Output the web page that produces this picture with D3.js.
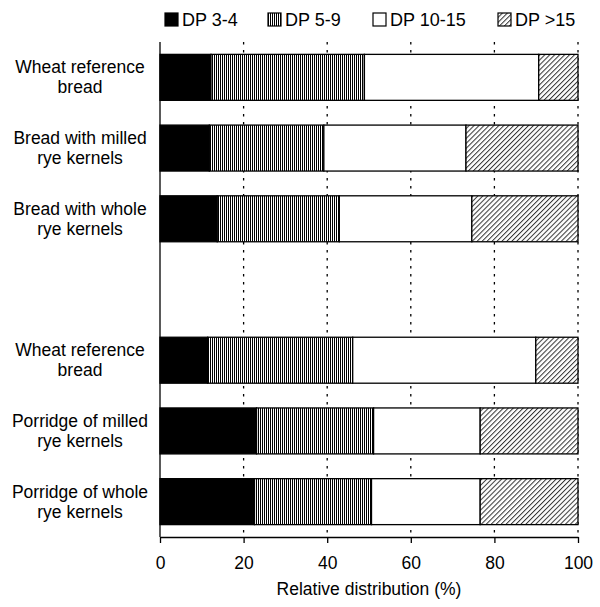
<!DOCTYPE html>
<html>
<head>
<meta charset="utf-8">
<script src="https://cdn.jsdelivr.net/npm/d3@7/dist/d3.min.js"></script>
<style>
  html, body { margin: 0; padding: 0; background: #fff; }
  text { font-family: "Liberation Sans", Arial, sans-serif; fill: #000; }
</style>
</head>
<body>
<svg id="chart" width="600" height="607"></svg>
<script>
// ---- data ----
const rowIds = ["r1", "r2", "r3", "gap", "r4", "r5", "r6"];
const rowLabels = [
  ["Wheat reference", "bread"],
  ["Bread with milled", "rye kernels"],
  ["Bread with whole", "rye kernels"],
  [],
  ["Wheat reference", "bread"],
  ["Porridge of milled", "rye kernels"],
  ["Porridge of whole", "rye kernels"]
];
const seriesNames = ["DP 3-4", "DP 5-9", "DP 10-15", "DP >15"];
const dp34   = [12.2, 11.8, 13.7, null, 11.4, 23.1, 22.6];
const dp59   = [36.7, 27.4, 29.2, null, 34.7, 28.0, 28.0];
const dp1015 = [41.7, 34.0, 31.7, null, 43.8, 25.5, 26.0];
const dp15   = [ 9.4, 26.8, 25.4, null, 10.1, 23.4, 23.4];
const xTicks = [0, 20, 40, 60, 80, 100];
const xTitle = "Relative distribution (%)";

// ---- setup ----
const svg = d3.select("#chart");
const pLeft = 160, pRight = 578, pTop = 42, pBottom = 537;
const fs = 17.5;

const x = d3.scaleLinear().domain([0, 100]).range([pLeft, pRight]);
const y = d3.scaleBand().domain(rowIds).range([pTop, pBottom])
  .paddingInner(0.35).paddingOuter(0.175);

// patterns
const defs = svg.append("defs");
const pv = defs.append("pattern").attr("id", "pVert")
  .attr("patternUnits", "userSpaceOnUse").attr("width", 2).attr("height", 4);
pv.append("rect").attr("width", 2).attr("height", 4).attr("fill", "#fff");
pv.append("rect").attr("width", 1).attr("height", 4).attr("fill", "#000");

const pd = defs.append("pattern").attr("id", "pDiag")
  .attr("patternUnits", "userSpaceOnUse").attr("width", 3.5).attr("height", 3.5)
  .attr("patternTransform", "rotate(45)");
pd.append("rect").attr("width", 3.5).attr("height", 3.5).attr("fill", "#fff");
pd.append("rect").attr("width", 1).attr("height", 3.5).attr("fill", "#333");

const fills = ["#000", "url(#pVert)", "#fff", "url(#pDiag)"];

// gridlines
svg.append("g").selectAll("line").data(xTicks.filter(t => t > 0)).join("line")
  .attr("x1", d => x(d)).attr("x2", d => x(d))
  .attr("y1", pTop).attr("y2", pBottom)
  .attr("stroke", "#000").attr("stroke-width", 1.3)
  .attr("stroke-dasharray", "2.5,5.5");

// stacked bars
const rows = rowIds.map((id, i) => ({ id, vals: [dp34[i], dp59[i], dp1015[i], dp15[i]] }))
  .filter(r => r.vals[0] !== null);
const segs = [];
rows.forEach(r => {
  let acc = 0;
  r.vals.forEach((v, k) => { segs.push({ id: r.id, k, x0: acc, x1: acc + v }); acc += v; });
});
svg.append("g").selectAll("rect").data(segs).join("rect")
  .attr("x", d => x(d.x0)).attr("width", d => x(d.x1) - x(d.x0))
  .attr("y", d => y(d.id)).attr("height", y.bandwidth())
  .attr("fill", d => fills[d.k])
  .attr("stroke", "#000").attr("stroke-width", 1.3);

// x axis
const xAxis = svg.append("g").attr("transform", `translate(0,${pBottom})`)
  .call(d3.axisBottom(x).tickValues(xTicks).tickSize(6).tickSizeOuter(0).tickPadding(14));
xAxis.select(".domain").attr("stroke-width", 1.3);
xAxis.selectAll(".tick line").attr("stroke-width", 1.3);
xAxis.selectAll("text").attr("font-size", fs)
  .attr("font-family", "Liberation Sans, Arial, sans-serif");

// y axis line
svg.append("line").attr("x1", pLeft).attr("x2", pLeft).attr("y1", pTop).attr("y2", pBottom)
  .attr("stroke", "#000").attr("stroke-width", 1.3);

// y labels
rowIds.forEach((id, i) => {
  const lines = rowLabels[i];
  if (!lines.length) return;
  const cy = y(id) + y.bandwidth() / 2;
  const t = svg.append("text").attr("text-anchor", "middle").attr("font-size", fs);
  lines.forEach((ln, j) => {
    t.append("tspan").attr("x", 80)
      .attr("y", cy - 10 + j * 20 + 0.35 * fs)
      .text(ln);
  });
});

// x title
svg.append("text").attr("x", (pLeft + pRight) / 2).attr("y", 595)
  .attr("text-anchor", "middle").attr("font-size", fs).text(xTitle);

// legend
const legX = [165, 268, 373, 498];
const leg = svg.append("g");
seriesNames.forEach((name, k) => {
  leg.append("rect").attr("x", legX[k]).attr("y", 13).attr("width", 13).attr("height", 13)
    .attr("fill", fills[k]).attr("stroke", "#000").attr("stroke-width", 1.2);
  leg.append("text").attr("x", legX[k] + 17).attr("y", 26).attr("font-size", 18).text(name);
});
</script>
</body>
</html>
